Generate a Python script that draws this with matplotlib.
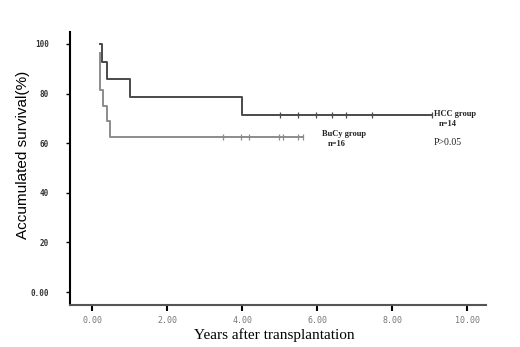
import matplotlib.pyplot as plt

# Kaplan-Meier steps (years, survival %)
hcc_t = [0.21, 0.27, 0.39, 1.0, 4.0, 9.05]
hcc_s = [100, 92.86, 85.71, 78.57, 71.43, 71.43]
hcc_cens = [5.0, 5.5, 5.97, 6.39, 6.77, 7.47, 9.05]

bucy_t = [0.2, 0.21, 0.3, 0.39, 0.48, 5.62]
bucy_s = [96.5, 81.25, 75.0, 68.75, 62.5, 62.5]
bucy_cens = [3.5, 3.97, 4.19, 4.99, 5.1, 5.5, 5.62]

xticks = [0, 2, 4, 6, 8, 10]
xlabels = ["0.00", "2.00", "4.00", "6.00", "8.00", "10.00"]
yticks = [0, 20, 40, 60, 80, 100]
ylabels = ["0.00", "20", "40", "60", "80", "100"]

fig = plt.figure(figsize=(5.2, 3.47), dpi=100)
ax = fig.add_axes([70 / 520, 1 - 305 / 347, 416 / 520, 273 / 347])

ax.step(hcc_t, hcc_s, where="post", color="#4a4a4a", lw=1.4)
ax.plot(hcc_cens, [71.43] * len(hcc_cens), "|", color="#4a4a4a", ms=5, mew=0.9)
ax.step(bucy_t, bucy_s, where="post", color="#8c8c8c", lw=1.4)
ax.plot(bucy_cens, [62.5] * len(bucy_cens), "|", color="#8c8c8c", ms=5, mew=0.9)

ax.set_xlim(-0.59, 10.5)
ax.set_ylim(-5.2, 104.8)

for s in ["top", "right"]:
    ax.spines[s].set_visible(False)
ax.spines["left"].set_linewidth(1.5)
ax.spines["bottom"].set_linewidth(1.5)
ax.spines["bottom"].set_color("#555555")

ax.set_xticks(xticks)
ax.set_xticklabels(xlabels, family="DejaVu Sans Mono", fontsize=6, color="#777777")
ax.set_yticks(yticks)
ax.set_yticklabels(ylabels, family="DejaVu Sans Mono", fontsize=5.5, fontweight="bold", color="#333333")
ax.tick_params(axis="x", length=4, width=1.5, pad=4)
ax.tick_params(axis="y", length=3, width=1, pad=12)

ax.set_ylabel("Accumulated survival(%)", family="Liberation Sans", fontsize=11)
ax.yaxis.set_label_coords(-0.095, 0.55)
ax.set_xlabel("Years after transplantation", family="Liberation Serif", fontsize=11)
ax.xaxis.set_label_coords(0.49, -0.085)

txt = dict(family="Liberation Serif", fontsize=6, fontweight="bold", color="#222222")
ax.text(9.12, 71.6, "HCC group", va="center", **txt)
ax.text(9.25, 67.8, "n=14", va="center", **txt)
ax.text(9.1, 60.3, "P>0.05", va="center", fontsize=7, family="Liberation Serif", color="#222222")
ax.text(6.12, 63.8, "BuCy group", va="center", **txt)
ax.text(6.27, 59.8, "n=16", va="center", **txt)

fig.savefig("out.png", dpi=100)
